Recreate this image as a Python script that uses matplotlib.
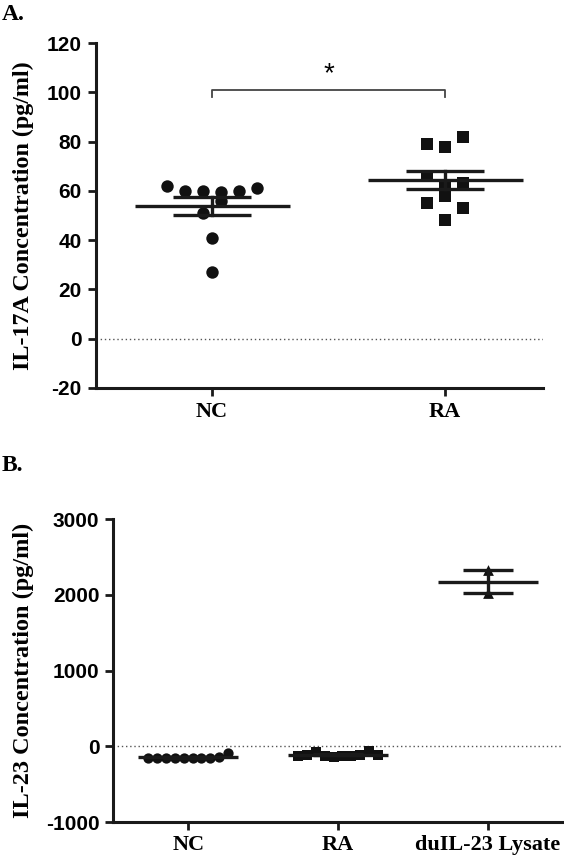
import matplotlib.pyplot as plt
import numpy as np

# panel A data (IL-17A, pg/ml)
nc_a = [62, 60, 60, 59.5, 56, 60, 61, 51, 41, 27]
nc_a_col = [-2.5, -1.5, -0.5, 0.5, 0.5, 1.5, 2.5, -0.5, 0, 0]
ra_a = [79, 78, 82, 66, 63, 62, 58, 55, 48, 53]
ra_a_col = [-1, 0, 1, -1, 1, 0, 0, -1, 0, 1]
groups_a = ['NC', 'RA']

# panel B data (IL-23, pg/ml)
nc_b = [-150, -155, -150, -160, -150, -155, -150, -155, -145, -95]
ra_b = [-125, -120, -70, -130, -135, -125, -130, -115, -60, -110]
du_b = [2330, 2020]
groups_b = ['NC', 'RA', 'duIL-23 Lysate']

serif = 'Liberation Serif'
sans = 'Liberation Sans'


def mean_sem(ax, x, vals, half=0.333, shalf=0.167, lw=2.4):
    v = np.array(vals, float)
    m = v.mean()
    s = v.std(ddof=1) / np.sqrt(len(v))
    ax.plot([x - half, x + half], [m, m], color='#1a1a1a', lw=lw, zorder=4, solid_capstyle='butt')
    ax.plot([x - shalf, x + shalf], [m + s, m + s], color='#1a1a1a', lw=lw, zorder=4, solid_capstyle='butt')
    ax.plot([x - shalf, x + shalf], [m - s, m - s], color='#1a1a1a', lw=lw, zorder=4, solid_capstyle='butt')
    ax.plot([x, x], [m - s, m + s], color='#1a1a1a', lw=lw, zorder=4)


def style(ax, yt):
    for sp in ['top', 'right']:
        ax.spines[sp].set_visible(False)
    for sp in ['left', 'bottom']:
        ax.spines[sp].set_linewidth(2.2)
        ax.spines[sp].set_color('#1a1a1a')
    ax.tick_params(width=2, length=6, color='#1a1a1a')
    ax.set_yticks(yt)
    ax.set_yticklabels([str(v) for v in yt])  # plain hyphen like the original
    for t in ax.get_yticklabels():
        t.set_fontfamily(sans)
        t.set_fontweight('bold')
        t.set_fontsize(15)
    for t in ax.get_xticklabels():
        t.set_fontfamily(serif)
        t.set_fontweight('bold')
        t.set_fontsize(16)


fig = plt.figure(figsize=(5.64, 8.57), dpi=100)

# ---- A
ax = fig.add_axes([0.1697, 0.5473, 0.793, 0.4025])
step = 0.0773
ax.scatter(1 + np.array(nc_a_col) * step, nc_a, s=80, marker='o', color='#111111', zorder=3, linewidths=0)
ax.scatter(2 + np.array(ra_a_col) * step, ra_a, s=75, marker='s', color='#111111', zorder=3, linewidths=0)
mean_sem(ax, 1, nc_a)
mean_sem(ax, 2, ra_a)
ax.axhline(0, color='#555555', lw=1, ls=(0, (1, 2)), zorder=1)
ax.plot([1, 1, 2, 2], [98, 101, 101, 98], color='#444444', lw=1.3)
ax.text(1.5, 102, '*', ha='center', va='bottom', fontsize=20, fontfamily=sans)
ax.set_xlim(0.5, 2.42)
ax.set_ylim(-20, 120)
ax.set_xticks([1, 2])
ax.set_xticklabels(groups_a)
ax.tick_params(axis='y', pad=4)
ax.tick_params(axis='x', pad=4)
ax.set_ylabel('IL-17A Concentration (pg/ml)', fontfamily=serif, fontweight='bold', fontsize=17.3)
ax.yaxis.set_label_coords(-0.138, 0.5)
style(ax, list(range(-20, 121, 20)))

# ---- B
bx = fig.add_axes([0.2009, 0.0408, 0.797, 0.3535])
bstep = 0.059
nc_x = 1 + (np.arange(len(nc_b)) - 4.5) * bstep
ra_x = 2 + (np.arange(len(ra_b)) - 4.5) * bstep
bx.scatter(nc_x, nc_b, s=55, marker='o', color='#111111', zorder=3, linewidths=0)
bx.scatter(ra_x, ra_b, s=60, marker='s', color='#111111', zorder=3, linewidths=0)
bx.scatter([3, 3], du_b, s=60, marker='^', color='#111111', zorder=3, linewidths=0)
mean_sem(bx, 1, nc_b)
mean_sem(bx, 2, ra_b)
mean_sem(bx, 3, du_b)
bx.axhline(0, color='#555555', lw=1, ls=(0, (1, 2)), zorder=1)
bx.set_xlim(0.5, 3.5)
bx.set_ylim(-1000, 3000)
bx.set_xticks([1, 2, 3])
bx.set_xticklabels(groups_b)
bx.tick_params(axis='y', pad=4)
bx.tick_params(axis='x', pad=3)
bx.set_ylabel('IL-23 Concentration (pg/ml)', fontfamily=serif, fontweight='bold', fontsize=17.5)
bx.yaxis.set_label_coords(-0.176, 0.5)
style(bx, [-1000, 0, 1000, 2000, 3000])

fig.text(0.003, 0.983, 'A.', fontfamily=serif, fontweight='bold', fontsize=17, va='center')
fig.text(0.003, 0.457, 'B.', fontfamily=serif, fontweight='bold', fontsize=17, va='center')

fig.savefig('out.png', dpi=100)
